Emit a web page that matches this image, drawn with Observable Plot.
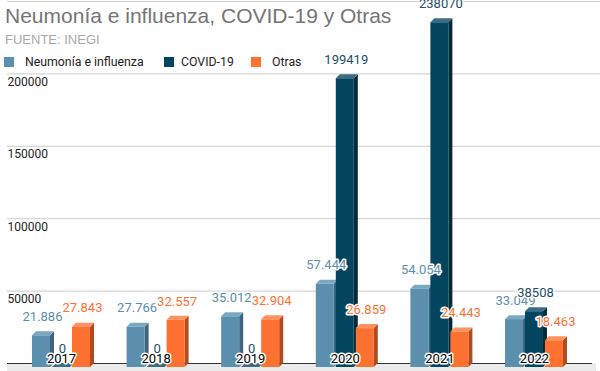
<!DOCTYPE html>
<html>
<head>
<meta charset="utf-8">
<script src="https://cdn.jsdelivr.net/npm/d3@7"></script>
<script src="https://cdn.jsdelivr.net/npm/@observablehq/plot@0.6"></script>
<style>
  html, body { margin: 0; padding: 0; background: #fff; }
  #wrap { position: relative; width: 600px; height: 371px; overflow: hidden; font-family: Roboto, sans-serif; }
  #chart { position: absolute; left: 0; top: 0; }
  .title { position: absolute; left: 5px; top: 5px; font-family: "Liberation Sans", Arial, sans-serif; font-size: 21px; line-height: 21px; color: #757575; white-space: nowrap; }
  .sub { position: absolute; left: 5px; top: 33px; font-family: "Liberation Sans", Arial, sans-serif; font-size: 13px; line-height: 13px; color: #a8a8a8; white-space: nowrap; }
  .leg { position: absolute; top: 56px; font-size: 12.3px; line-height: 12px; color: #222; white-space: nowrap; }
  .sw { position: absolute; top: 57px; width: 10px; height: 10px; }
</style>
</head>
<body>
<div id="wrap">
  <div id="chart"></div>
  <div class="title">Neumonía e influenza, COVID-19 y Otras</div>
  <div class="sub">FUENTE: INEGI</div>
  <div id="legend"></div>
</div>
<script>
// ---- data ----
const years = ["2017", "2018", "2019", "2020", "2021", "2022"];
const seriesNames = ["Neumonía e influenza", "COVID-19", "Otras"];
const neumonia = [21886, 27766, 35012, 57444, 54054, 33049];
const covid = [0, 0, 0, 199419, 238070, 38508];
const otras = [27843, 32557, 32904, 26859, 24443, 18463];
const yTicks = [50000, 100000, 150000, 200000];
const gridTicks = [50000, 100000, 150000, 200000, 250000];

// ---- styles ----
const front = ["#5b8fad", "#03455f", "#ff7131"];
const topC  = ["#7ba8c1", "#3b6c82", "#ff925e"];
const side  = ["#3e657b", "#012b3b", "#b24b1c"];
const labelC = ["#5b8fad", "#1b4d68", "#ff7131"];
const legendX = [4, 164, 251];
const legendTextX = [25, 181, 272];

const W = 600, H = 371;
const xDomain = [-0.645, 5.698];
const yDomain = [0, 250000];
const mTop = 5, mBottom = 4;
const PX = (xDomain[1] - xDomain[0]) / W;              // x units per pixel
const PY = (yDomain[1] - yDomain[0]) / (H - mTop - mBottom); // y units per pixel
const DEPTH = 4, BARW = 18, PITCH = 20;

const dot = d3.formatLocale({decimal: ",", thousands: ".", grouping: [3], currency: ["", ""]}).format(",");
const allSeries = [neumonia, covid, otras];
const rows = [];
allSeries.forEach((vals, j) => vals.forEach((v, i) => {
  const x0 = i + ((j - 1) * PITCH - BARW / 2) * PX;
  rows.push({
    year: years[i], i, j, value: v, x0, x1: x0 + BARW * PX,
    label: j === 1 ? String(v) : dot(v)
  });
}));
rows.sort((a, b) => a.i - b.i || a.j - b.j);

const dxU = DEPTH * PX, dyU = DEPTH * PY;
const sidePts = rows.flatMap((r, k) => [
  {k, j: r.j, xa: r.x1, xb: r.x1, ya: 0, yb: r.value},
  {k, j: r.j, xa: r.x1 + dxU, xb: r.x1 + dxU, ya: dyU, yb: r.value + dyU}
]);
const topPts = rows.flatMap((r, k) => [
  {k, j: r.j, xa: r.x0, xb: r.x1, ya: r.value, yb: r.value},
  {k, j: r.j, xa: r.x0 + dxU, xb: r.x1 + dxU, ya: r.value + dyU, yb: r.value + dyU}
]);

const plot = Plot.plot({
  width: W, height: H,
  marginLeft: 0, marginRight: 0, marginTop: mTop, marginBottom: mBottom,
  x: {domain: xDomain, axis: null},
  y: {domain: yDomain, axis: null},
  color: {type: "identity"},
  style: {fontFamily: "Roboto, sans-serif", fontSize: "12px", background: "transparent", overflow: "visible"},
  marks: [
    Plot.rect([0], {x1: xDomain[0] + 7 * PX, x2: xDomain[1] - 4 * PX, y1: -DEPTH * PY - 4 * PY, y2: dyU, fill: "#ebebeb"}),
    Plot.ruleY(gridTicks, {y: d => d, dy: -DEPTH, stroke: "#cccccc", insetLeft: 7}),
    Plot.ruleY([0], {y: d => d, dy: -DEPTH, stroke: "#333333", insetLeft: 7, insetRight: 8}),
    Plot.text(yTicks, {y: d => d, text: d => String(d), frameAnchor: "left", textAnchor: "start", dx: 7, dy: 4, fill: "#222", fontSize: 12}),
    Plot.area(sidePts, {x1: "xa", x2: "xb", y1: "ya", y2: "yb", z: "k", fill: d => side[d.j], curve: "linear"}),
    Plot.area(topPts, {x1: "xa", x2: "xb", y1: "ya", y2: "yb", z: "k", fill: d => topC[d.j], curve: "linear"}),
    Plot.rect(rows, {x1: "x0", x2: "x1", y1: 0, y2: "value", fill: d => front[d.j]}),
    Plot.text(rows, {x: d => (d.x0 + d.x1) / 2 + 1 * PX, y: "value", text: "label", dy: -19, fill: d => labelC[d.j],
      stroke: "white", strokeWidth: 3, paintOrder: "stroke", fontSize: 13}),
    Plot.text(years.map((y, i) => ({y, i, v: 0})), {x: "i", y: "v", text: "y", dy: -9, fill: "#000",
      stroke: "white", strokeWidth: 3, paintOrder: "stroke", fontSize: 13})
  ]
});
document.getElementById("chart").appendChild(plot);

const lg = document.getElementById("legend");
seriesNames.forEach((s, j) => {
  const sw = document.createElement("div");
  sw.className = "sw"; sw.style.left = legendX[j] + "px"; sw.style.background = front[j];
  lg.appendChild(sw);
  const t = document.createElement("div");
  t.className = "leg"; t.style.left = legendTextX[j] + "px"; t.textContent = s;
  lg.appendChild(t);
});
</script>
</body>
</html>
